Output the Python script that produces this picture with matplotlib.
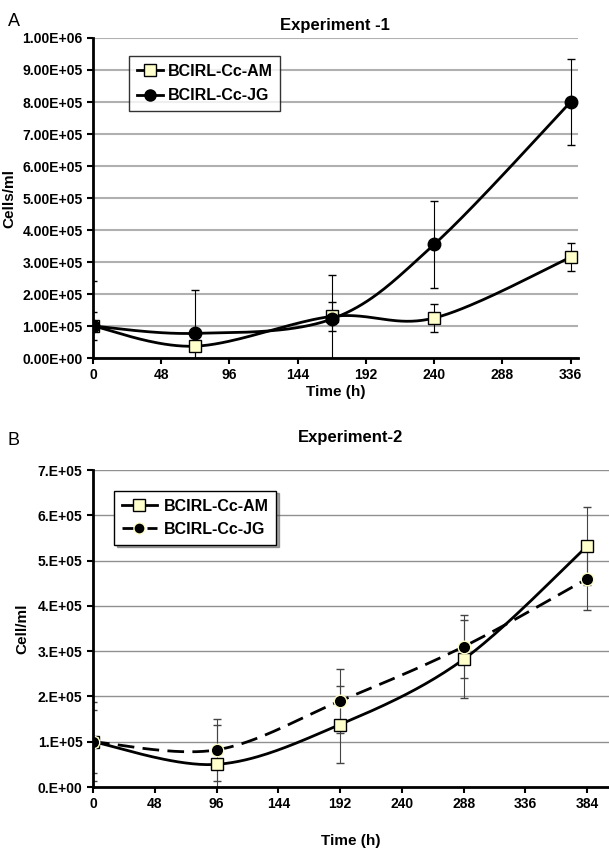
import numpy as np
import matplotlib.pyplot as plt
from matplotlib.ticker import FuncFormatter

plt.rcParams['font.family'] = ['Liberation Sans', 'DejaVu Sans']

# Experiment 1
t1 = [0, 72, 168, 240, 336]
am1 = [1.0e5, 0.37e5, 1.30e5, 1.25e5, 3.15e5]
am1_err = [0.45e5, 0.45e5, 0.45e5, 0.45e5, 0.44e5]
jg1 = [1.0e5, 0.77e5, 1.22e5, 3.55e5, 8.0e5]
jg1_err = [1.40e5, 1.35e5, 1.38e5, 1.37e5, 1.35e5]

# Experiment 2
t2 = [0, 96, 192, 288, 384]
am2 = [1.0e5, 0.50e5, 1.38e5, 2.82e5, 5.32e5]
am2_err = [0.70e5, 0.86e5, 0.85e5, 0.86e5, 0.86e5]
jg2 = [1.0e5, 0.82e5, 1.90e5, 3.10e5, 4.60e5]
jg2_err = [0.87e5, 0.69e5, 0.70e5, 0.70e5, 0.70e5]


def smooth(x, y, n=40):
    # catmull-rom like Excel smoothed line
    x = np.asarray(x, float)
    y = np.asarray(y, float)
    px = np.concatenate([[x[0]], x, [x[-1]]])
    py = np.concatenate([[y[0]], y, [y[-1]]])
    xs, ys = [], []
    for i in range(1, len(px) - 2):
        s = np.linspace(0, 1, n)
        p0, p1, p2, p3 = [np.array([px[j], py[j]]) for j in range(i - 1, i + 3)]
        c1 = p1 + (p2 - p0) / 6
        c2 = p2 - (p3 - p1) / 6
        pts = ((1 - s) ** 3)[:, None] * p1 + (3 * (1 - s) ** 2 * s)[:, None] * c1 \
            + (3 * (1 - s) * s ** 2)[:, None] * c2 + (s ** 3)[:, None] * p2
        xs.extend(pts[:, 0])
        ys.extend(pts[:, 1])
    return xs, ys


def style_axes(ax, xmax, xticks, ymax, fmt, gridc, gridlw):
    ax.set_xlim(0, xmax)
    ax.set_ylim(0, ymax)
    ax.set_xticks(xticks)
    ax.set_yticks(np.arange(0, ymax + 1, 1e5))
    ax.yaxis.set_major_formatter(FuncFormatter(fmt))
    ax.grid(axis='y', color=gridc, lw=gridlw)
    ax.set_axisbelow(True)
    for s in ['top', 'right']:
        ax.spines[s].set_visible(False)
    ax.spines['left'].set_linewidth(2)
    ax.spines['bottom'].set_linewidth(2)
    ax.tick_params(axis='both', direction='out', width=1.5, length=4,
                   labelsize=10)
    for lab in ax.get_xticklabels() + ax.get_yticklabels():
        lab.set_fontweight('bold')


fig = plt.figure(figsize=(6.09, 8.5), dpi=100)

# ---- Experiment 1
ax1 = fig.add_axes([0.1527, 0.5788, 0.796, 0.3765])
ax1.errorbar(t1, jg1, yerr=jg1_err, fmt='none', ecolor='black', elinewidth=0.8, capsize=3)
ax1.errorbar(t1, am1, yerr=am1_err, fmt='none', ecolor='black', elinewidth=0.8, capsize=3)
x, y = smooth(t1, am1)
ax1.plot(x, y, color='black', lw=2)
x, y = smooth(t1, jg1)
ax1.plot(x, y, color='black', lw=2)
ax1.plot(t1, am1, ls='none', marker='s', ms=8.5, mfc='#ffffcc', mec='black', mew=1)
ax1.plot(t1, jg1, ls='none', marker='o', ms=9, mfc='black', mec='black')
style_axes(ax1, 341, range(0, 337, 48), 1e6,
           lambda v, p: '%.2fE+%02d' % (v / 10 ** int(np.floor(np.log10(v))), int(np.floor(np.log10(v)))) if v > 0 else '0.00E+00',
           '#b0b0b0', 1.5)
h1 = [plt.Line2D([], [], color='black', lw=2, marker='s', ms=8, mfc='#ffffcc', mec='black'),
      plt.Line2D([], [], color='black', lw=2, marker='o', ms=8, mfc='black')]
leg = ax1.legend(h1, ['BCIRL-Cc-AM', 'BCIRL-Cc-JG'], loc='upper left', bbox_to_anchor=(0.058, 0.97),
                 frameon=True, fancybox=False, handlelength=1.6, handletextpad=0.3,
                 prop={'weight': 'bold', 'size': 11.5}, borderpad=0.5, labelspacing=0.6)
leg.get_frame().set_edgecolor('black')
leg.get_frame().set_linewidth(1)
ax1.set_ylabel('Cells/ml', fontweight='bold', fontsize=11, labelpad=4)
ax1.set_xlabel('Time (h)', fontweight='bold', fontsize=11, labelpad=2)
ax1.set_title('Experiment -1', fontweight='bold', fontsize=12, pad=6)
fig.text(0.013, 0.985, 'A', fontsize=13, va='top')

# ---- Experiment 2
ax2 = fig.add_axes([0.1527, 0.0741, 0.8473, 0.3729])
ax2.errorbar(t2, jg2, yerr=jg2_err, fmt='none', ecolor='#444444', elinewidth=0.8, capsize=3)
ax2.errorbar(t2, am2, yerr=am2_err, fmt='none', ecolor='#444444', elinewidth=0.8, capsize=3)
x, y = smooth(t2, am2)
ax2.plot(x, y, color='black', lw=2)
x, y = smooth(t2, jg2)
ax2.plot(x, y, color='black', lw=2, dashes=(6, 3))
ax2.plot(t2, am2, ls='none', marker='s', ms=8.5, mfc='#ffffcc', mec='black', mew=1)
ax2.plot(t2, jg2, ls='none', marker='o', ms=9, mfc='black', mec='#ffffcc', mew=1)
style_axes(ax2, 401, range(0, 385, 48), 7e5,
           lambda v, p: '%d.E+05' % round(v / 1e5) if v > 0 else '0.E+00', '#909090', 1)
h2 = [plt.Line2D([], [], color='black', lw=2, marker='s', ms=8, mfc='#ffffcc', mec='black'),
      plt.Line2D([], [], color='black', lw=2, dashes=(6, 3), marker='o', ms=8, mfc='black', mec='#ffffcc')]
leg2 = ax2.legend(h2, ['BCIRL-Cc-AM', 'BCIRL-Cc-JG'], loc='upper left', bbox_to_anchor=(0.025, 0.96),
                  frameon=True, fancybox=False, shadow=True, handlelength=2.2, handletextpad=0.4,
                  prop={'weight': 'bold', 'size': 11.5}, borderpad=0.5, labelspacing=0.5)
leg2.get_frame().set_edgecolor('black')
leg2.get_frame().set_linewidth(1)
ax2.set_ylabel('Cell/ml', fontweight='bold', fontsize=11, labelpad=6)
ax2.set_xlabel('Time (h)', fontweight='bold', fontsize=11, labelpad=16)
ax2.set_title('Experiment-2', fontweight='bold', fontsize=12, pad=20)
fig.text(0.013, 0.492, 'B', fontsize=13, va='top')

fig.savefig('out.png', dpi=100)
